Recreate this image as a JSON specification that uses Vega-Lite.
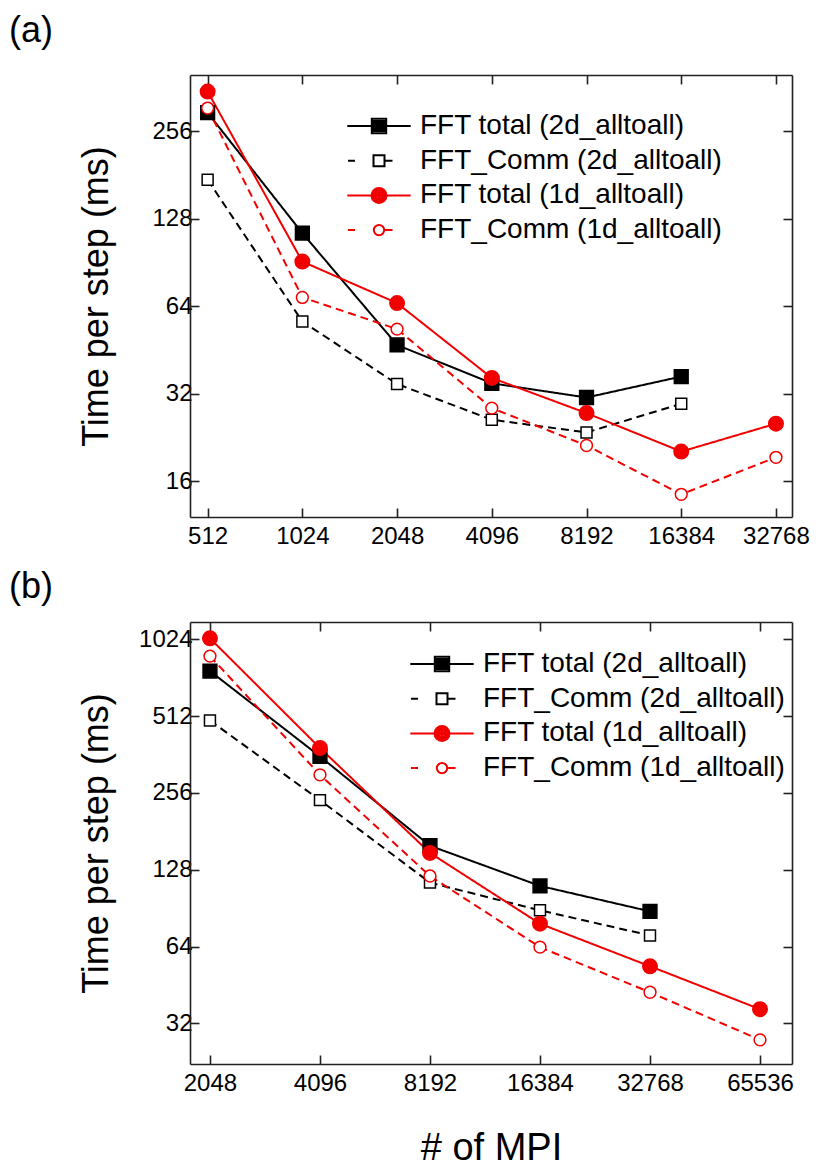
{
  "$schema": "https://vega.github.io/schema/vega-lite/v6.json",
  "padding": {"left": 9, "top": 13, "right": 5, "bottom": 0},
  "spacing": 21,
  "resolve": {
    "scale": {"color": "independent", "fill": "independent", "stroke": "independent", "shape": "independent", "size": "independent", "strokeDash": "independent"},
    "legend": {"color": "independent", "fill": "independent", "stroke": "independent", "shape": "independent", "size": "independent", "strokeDash": "independent"}
  },
  "config": {
    "font": "Liberation Sans",
    "view": {"stroke": null},
    "axis": {
      "grid": false,
      "domainColor": "#222",
      "domainWidth": 1.6,
      "tickColor": "#222",
      "tickWidth": 1.6,
      "tickSize": -9,
      "labelFontSize": 24,
      "labelColor": "#000",
      "labelFont": "Liberation Sans",
      "titleFont": "Liberation Sans",
      "titleFontWeight": "normal",
      "titleColor": "#000"
    }
  },
  "datasets": {
    "a": [
      {"mpi": 512, "s": "FFT total (2d_alltoall)", "t": 296},
      {"mpi": 1024, "s": "FFT total (2d_alltoall)", "t": 114},
      {"mpi": 2048, "s": "FFT total (2d_alltoall)", "t": 47},
      {"mpi": 4096, "s": "FFT total (2d_alltoall)", "t": 34.7},
      {"mpi": 8192, "s": "FFT total (2d_alltoall)", "t": 31},
      {"mpi": 16384, "s": "FFT total (2d_alltoall)", "t": 36.6},
      {"mpi": 512, "s": "FFT_Comm (2d_alltoall)", "t": 174},
      {"mpi": 1024, "s": "FFT_Comm (2d_alltoall)", "t": 56.6},
      {"mpi": 2048, "s": "FFT_Comm (2d_alltoall)", "t": 34.5},
      {"mpi": 4096, "s": "FFT_Comm (2d_alltoall)", "t": 26},
      {"mpi": 8192, "s": "FFT_Comm (2d_alltoall)", "t": 23.5},
      {"mpi": 16384, "s": "FFT_Comm (2d_alltoall)", "t": 29.5},
      {"mpi": 512, "s": "FFT total (1d_alltoall)", "t": 350},
      {"mpi": 1024, "s": "FFT total (1d_alltoall)", "t": 91},
      {"mpi": 2048, "s": "FFT total (1d_alltoall)", "t": 65.5},
      {"mpi": 4096, "s": "FFT total (1d_alltoall)", "t": 36.2},
      {"mpi": 8192, "s": "FFT total (1d_alltoall)", "t": 27.4},
      {"mpi": 16384, "s": "FFT total (1d_alltoall)", "t": 20.2},
      {"mpi": 32768, "s": "FFT total (1d_alltoall)", "t": 25.2},
      {"mpi": 512, "s": "FFT_Comm (1d_alltoall)", "t": 307},
      {"mpi": 1024, "s": "FFT_Comm (1d_alltoall)", "t": 68.5},
      {"mpi": 2048, "s": "FFT_Comm (1d_alltoall)", "t": 53.3},
      {"mpi": 4096, "s": "FFT_Comm (1d_alltoall)", "t": 28.5},
      {"mpi": 8192, "s": "FFT_Comm (1d_alltoall)", "t": 21.2},
      {"mpi": 16384, "s": "FFT_Comm (1d_alltoall)", "t": 14.4},
      {"mpi": 32768, "s": "FFT_Comm (1d_alltoall)", "t": 19.3}
    ],
    "b": [
      {"mpi": 2048, "s": "FFT total (2d_alltoall)", "t": 769},
      {"mpi": 4096, "s": "FFT total (2d_alltoall)", "t": 356},
      {"mpi": 8192, "s": "FFT total (2d_alltoall)", "t": 159},
      {"mpi": 16384, "s": "FFT total (2d_alltoall)", "t": 110.7},
      {"mpi": 32768, "s": "FFT total (2d_alltoall)", "t": 88},
      {"mpi": 2048, "s": "FFT_Comm (2d_alltoall)", "t": 492},
      {"mpi": 4096, "s": "FFT_Comm (2d_alltoall)", "t": 240},
      {"mpi": 8192, "s": "FFT_Comm (2d_alltoall)", "t": 114},
      {"mpi": 16384, "s": "FFT_Comm (2d_alltoall)", "t": 88.8},
      {"mpi": 32768, "s": "FFT_Comm (2d_alltoall)", "t": 70.8},
      {"mpi": 2048, "s": "FFT total (1d_alltoall)", "t": 1033},
      {"mpi": 4096, "s": "FFT total (1d_alltoall)", "t": 384},
      {"mpi": 8192, "s": "FFT total (1d_alltoall)", "t": 149},
      {"mpi": 16384, "s": "FFT total (1d_alltoall)", "t": 78.7},
      {"mpi": 32768, "s": "FFT total (1d_alltoall)", "t": 53.6},
      {"mpi": 65536, "s": "FFT total (1d_alltoall)", "t": 36.4},
      {"mpi": 2048, "s": "FFT_Comm (1d_alltoall)", "t": 880},
      {"mpi": 4096, "s": "FFT_Comm (1d_alltoall)", "t": 301.5},
      {"mpi": 8192, "s": "FFT_Comm (1d_alltoall)", "t": 121},
      {"mpi": 16384, "s": "FFT_Comm (1d_alltoall)", "t": 63.7},
      {"mpi": 32768, "s": "FFT_Comm (1d_alltoall)", "t": 42.4},
      {"mpi": 65536, "s": "FFT_Comm (1d_alltoall)", "t": 27.6}
    ]
  },
  "vconcat": [
    {
      "width": 602,
      "height": 442,
      "title": {"text": "(a)", "anchor": "start", "frame": "group", "dx": -181, "offset": -4, "fontSize": 36, "fontWeight": "normal", "baseline": "alphabetic", "color": "#000", "font": "Liberation Sans"},
      "data": {"name": "a"},
      "layer": [
        {
          "mark": {"type": "line", "strokeWidth": 2},
          "encoding": {
            "x": {"field": "mpi", "type": "quantitative", "scale": {"type": "log", "base": 2, "domain": [450, 36850]}, "axis": {"orient": "bottom", "values": [512, 1024, 2048, 4096, 8192, 16384, 32768], "format": "d", "title": null, "labelPadding": 16}},
            "y": {"field": "t", "type": "quantitative", "scale": {"type": "log", "base": 2, "domain": [12.03, 399]}, "axis": {"orient": "left", "values": [16, 32, 64, 128, 256], "format": "d", "title": "Time per step (ms)", "titleFontSize": 36, "titleX": -83, "titleBaseline": "alphabetic", "labelPadding": 7}},
            "color": {"field": "s", "type": "nominal", "scale": {"domain": ["FFT_Comm (1d_alltoall)", "FFT total (1d_alltoall)", "FFT_Comm (2d_alltoall)", "FFT total (2d_alltoall)"], "range": ["#f20000", "#f20000", "#000000", "#000000"]}, "legend": null},
            "strokeDash": {"field": "s", "type": "nominal", "scale": {"domain": ["FFT_Comm (1d_alltoall)", "FFT total (1d_alltoall)", "FFT_Comm (2d_alltoall)", "FFT total (2d_alltoall)"], "range": [[8, 5], [1, 0], [8, 5], [1, 0]]}, "legend": null}
          }
        },
        {
          "mark": {"type": "point", "filled": true, "strokeWidth": 1.5, "opacity": 1},
          "encoding": {
            "x": {"field": "mpi", "type": "quantitative", "scale": {"type": "log", "base": 2, "domain": [450, 36850]}, "axis": {"orient": "top", "values": [512, 1024, 2048, 4096, 8192, 16384, 32768], "labels": false, "title": null}},
            "y": {"field": "t", "type": "quantitative", "scale": {"type": "log", "base": 2, "domain": [12.03, 399]}, "axis": {"orient": "right", "values": [16, 32, 64, 128, 256], "labels": false, "title": null}},
            "fill": {"field": "s", "type": "nominal", "scale": {"domain": ["FFT_Comm (1d_alltoall)", "FFT total (1d_alltoall)", "FFT_Comm (2d_alltoall)", "FFT total (2d_alltoall)"], "range": ["#ffffff", "#f20000", "#ffffff", "#000000"]}, "legend": null},
            "stroke": {"field": "s", "type": "nominal", "scale": {"domain": ["FFT_Comm (1d_alltoall)", "FFT total (1d_alltoall)", "FFT_Comm (2d_alltoall)", "FFT total (2d_alltoall)"], "range": ["#f20000", "#f20000", "#000000", "#000000"]}, "legend": null},
            "shape": {"field": "s", "type": "nominal", "scale": {"domain": ["FFT_Comm (1d_alltoall)", "FFT total (1d_alltoall)", "FFT_Comm (2d_alltoall)", "FFT total (2d_alltoall)"], "range": ["circle", "circle", "square", "square"]}, "legend": null},
            "size": {"field": "s", "type": "nominal", "scale": {"type": "ordinal", "domain": ["FFT_Comm (1d_alltoall)", "FFT total (1d_alltoall)", "FFT_Comm (2d_alltoall)", "FFT total (2d_alltoall)"], "range": [140, 210, 120, 190]}, "legend": null}
          }
        },
        {
          "mark": {"type": "point", "filled": true, "opacity": 0},
          "encoding": {
            "x": {"field": "mpi", "type": "quantitative", "scale": {"type": "log", "base": 2, "domain": [450, 36850]}, "axis": null},
            "y": {"field": "t", "type": "quantitative", "scale": {"type": "log", "base": 2, "domain": [12.03, 399]}, "axis": null},
            "fill": {"field": "s", "type": "nominal", "scale": {"domain": ["FFT total (2d_alltoall)", "FFT_Comm (2d_alltoall)", "FFT total (1d_alltoall)", "FFT_Comm (1d_alltoall)"], "range": ["#000000", "#ffffff", "#f20000", "#ffffff"]},
              "legend": {"orient": "none", "legendX": 175, "legendY": 37, "title": null, "padding": 0, "rowPadding": 6.7, "labelFontSize": 28, "labelFont": "Liberation Sans", "labelColor": "#000", "labelOffset": 27, "labelLimit": 500, "symbolSize": 400, "symbolStrokeWidth": 2, "symbolOpacity": 1, "symbolFillColor": "#ffffff"}},
            "stroke": {"field": "s", "type": "nominal", "scale": {"domain": ["FFT total (2d_alltoall)", "FFT_Comm (2d_alltoall)", "FFT total (1d_alltoall)", "FFT_Comm (1d_alltoall)"], "range": ["#000000", "#000000", "#f20000", "#f20000"]}},
            "shape": {"field": "s", "type": "nominal", "scale": {"domain": ["FFT total (2d_alltoall)", "FFT_Comm (2d_alltoall)", "FFT total (1d_alltoall)", "FFT_Comm (1d_alltoall)"], "range": ["M-3.17,0H3.17M-0.72,-0.72H0.72V0.72H-0.72ZM-0.72,-0.5H0.72M-0.72,-0.3H0.72M-0.72,-0.1H0.72M-0.72,0.1H0.72M-0.72,0.3H0.72M-0.72,0.5H0.72", "M-3.1,0H-2.4M0.6,0H1.35M-0.55,-0.55H0.55V0.55H-0.55Z", "M-3.17,0H3.17M-0.75,0A0.75,0.75,0,1,0,0.75,0A0.75,0.75,0,1,0,-0.75,0ZM-0.55,0A0.55,0.55,0,1,0,0.55,0A0.55,0.55,0,1,0,-0.55,0ZM-0.35,0A0.35,0.35,0,1,0,0.35,0A0.35,0.35,0,1,0,-0.35,0ZM-0.15,0A0.15,0.15,0,1,0,0.15,0A0.15,0.15,0,1,0,-0.15,0Z", "M-3.1,0H-2.4M0.6,0H1.35M-0.52,0A0.52,0.52,0,1,0,0.52,0A0.52,0.52,0,1,0,-0.52,0Z"]}}
          }
        }
      ],
      "resolve": {"axis": {"x": "independent", "y": "independent"}, "scale": {"fill": "independent", "stroke": "independent", "shape": "independent"}}
    },
    {
      "width": 602,
      "height": 442,
      "title": {"text": "(b)", "anchor": "start", "frame": "group", "dx": -181, "offset": -13, "fontSize": 36, "fontWeight": "normal", "baseline": "alphabetic", "color": "#000", "font": "Liberation Sans"},
      "data": {"name": "b"},
      "layer": [
        {
          "mark": {"type": "line", "strokeWidth": 2},
          "encoding": {
            "x": {"field": "mpi", "type": "quantitative", "scale": {"type": "log", "base": 2, "domain": [1806, 80170]}, "axis": {"orient": "bottom", "values": [2048, 4096, 8192, 16384, 32768, 65536], "format": "d", "title": "# of MPI", "titleFontSize": 38, "titleY": 95, "titleBaseline": "alphabetic", "labelPadding": 16}},
            "y": {"field": "t", "type": "quantitative", "scale": {"type": "log", "base": 2, "domain": [22.2, 1197]}, "axis": {"orient": "left", "values": [32, 64, 128, 256, 512, 1024], "format": "d", "title": "Time per step (ms)", "titleFontSize": 36, "titleX": -83, "titleBaseline": "alphabetic", "labelPadding": 7}},
            "color": {"field": "s", "type": "nominal", "scale": {"domain": ["FFT_Comm (1d_alltoall)", "FFT total (1d_alltoall)", "FFT_Comm (2d_alltoall)", "FFT total (2d_alltoall)"], "range": ["#f20000", "#f20000", "#000000", "#000000"]}, "legend": null},
            "strokeDash": {"field": "s", "type": "nominal", "scale": {"domain": ["FFT_Comm (1d_alltoall)", "FFT total (1d_alltoall)", "FFT_Comm (2d_alltoall)", "FFT total (2d_alltoall)"], "range": [[8, 5], [1, 0], [8, 5], [1, 0]]}, "legend": null}
          }
        },
        {
          "mark": {"type": "point", "filled": true, "strokeWidth": 1.5, "opacity": 1},
          "encoding": {
            "x": {"field": "mpi", "type": "quantitative", "scale": {"type": "log", "base": 2, "domain": [1806, 80170]}, "axis": {"orient": "top", "values": [2048, 4096, 8192, 16384, 32768, 65536], "labels": false, "title": null}},
            "y": {"field": "t", "type": "quantitative", "scale": {"type": "log", "base": 2, "domain": [22.2, 1197]}, "axis": {"orient": "right", "values": [32, 64, 128, 256, 512, 1024], "labels": false, "title": null}},
            "fill": {"field": "s", "type": "nominal", "scale": {"domain": ["FFT_Comm (1d_alltoall)", "FFT total (1d_alltoall)", "FFT_Comm (2d_alltoall)", "FFT total (2d_alltoall)"], "range": ["#ffffff", "#f20000", "#ffffff", "#000000"]}, "legend": null},
            "stroke": {"field": "s", "type": "nominal", "scale": {"domain": ["FFT_Comm (1d_alltoall)", "FFT total (1d_alltoall)", "FFT_Comm (2d_alltoall)", "FFT total (2d_alltoall)"], "range": ["#f20000", "#f20000", "#000000", "#000000"]}, "legend": null},
            "shape": {"field": "s", "type": "nominal", "scale": {"domain": ["FFT_Comm (1d_alltoall)", "FFT total (1d_alltoall)", "FFT_Comm (2d_alltoall)", "FFT total (2d_alltoall)"], "range": ["circle", "circle", "square", "square"]}, "legend": null},
            "size": {"field": "s", "type": "nominal", "scale": {"type": "ordinal", "domain": ["FFT_Comm (1d_alltoall)", "FFT total (1d_alltoall)", "FFT_Comm (2d_alltoall)", "FFT total (2d_alltoall)"], "range": [140, 210, 120, 190]}, "legend": null}
          }
        },
        {
          "mark": {"type": "point", "filled": true, "opacity": 0},
          "encoding": {
            "x": {"field": "mpi", "type": "quantitative", "scale": {"type": "log", "base": 2, "domain": [1806, 80170]}, "axis": null},
            "y": {"field": "t", "type": "quantitative", "scale": {"type": "log", "base": 2, "domain": [22.2, 1197]}, "axis": null},
            "fill": {"field": "s", "type": "nominal", "scale": {"domain": ["FFT total (2d_alltoall)", "FFT_Comm (2d_alltoall)", "FFT total (1d_alltoall)", "FFT_Comm (1d_alltoall)"], "range": ["#000000", "#ffffff", "#f20000", "#ffffff"]},
              "legend": {"orient": "none", "legendX": 238, "legendY": 28, "title": null, "padding": 0, "rowPadding": 6.7, "labelFontSize": 28, "labelFont": "Liberation Sans", "labelColor": "#000", "labelOffset": 27, "labelLimit": 500, "symbolSize": 400, "symbolStrokeWidth": 2, "symbolOpacity": 1, "symbolFillColor": "#ffffff"}},
            "stroke": {"field": "s", "type": "nominal", "scale": {"domain": ["FFT total (2d_alltoall)", "FFT_Comm (2d_alltoall)", "FFT total (1d_alltoall)", "FFT_Comm (1d_alltoall)"], "range": ["#000000", "#000000", "#f20000", "#f20000"]}},
            "shape": {"field": "s", "type": "nominal", "scale": {"domain": ["FFT total (2d_alltoall)", "FFT_Comm (2d_alltoall)", "FFT total (1d_alltoall)", "FFT_Comm (1d_alltoall)"], "range": ["M-3.17,0H3.17M-0.72,-0.72H0.72V0.72H-0.72ZM-0.72,-0.5H0.72M-0.72,-0.3H0.72M-0.72,-0.1H0.72M-0.72,0.1H0.72M-0.72,0.3H0.72M-0.72,0.5H0.72", "M-3.1,0H-2.4M0.6,0H1.35M-0.55,-0.55H0.55V0.55H-0.55Z", "M-3.17,0H3.17M-0.75,0A0.75,0.75,0,1,0,0.75,0A0.75,0.75,0,1,0,-0.75,0ZM-0.55,0A0.55,0.55,0,1,0,0.55,0A0.55,0.55,0,1,0,-0.55,0ZM-0.35,0A0.35,0.35,0,1,0,0.35,0A0.35,0.35,0,1,0,-0.35,0ZM-0.15,0A0.15,0.15,0,1,0,0.15,0A0.15,0.15,0,1,0,-0.15,0Z", "M-3.1,0H-2.4M0.6,0H1.35M-0.52,0A0.52,0.52,0,1,0,0.52,0A0.52,0.52,0,1,0,-0.52,0Z"]}}
          }
        }
      ],
      "resolve": {"axis": {"x": "independent", "y": "independent"}, "scale": {"fill": "independent", "stroke": "independent", "shape": "independent"}}
    }
  ]
}
